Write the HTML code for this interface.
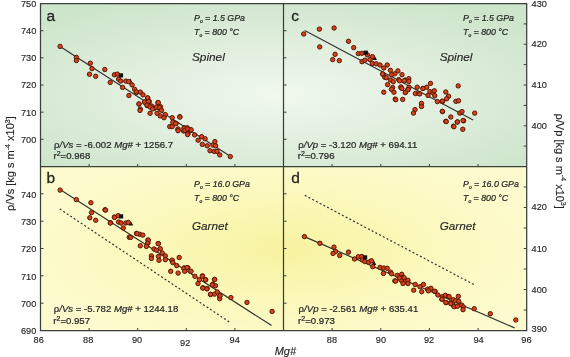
<!DOCTYPE html>
<html><head><meta charset="utf-8"><style>
html,body{margin:0;padding:0;width:570px;height:357px;overflow:hidden;background:#fff}
body{position:relative;font-family:"Liberation Sans", sans-serif}
</style></head><body>
<svg width="570" height="357" viewBox="0 0 570 357" style="position:absolute;left:0;top:0;filter:blur(0.3px)">
<defs>
<radialGradient id="gtop" gradientUnits="userSpaceOnUse" cx="280" cy="95" r="1" gradientTransform="translate(280 95) scale(330 105) translate(-280 -95)">
<stop offset="0" stop-color="#f0f8ee"/><stop offset="0.4" stop-color="#e4f0e1"/><stop offset="1" stop-color="#cde5ca"/></radialGradient>
<radialGradient id="gbot" gradientUnits="userSpaceOnUse" cx="284" cy="250" r="1" gradientTransform="translate(284 250) scale(260 100) translate(-284 -250)">
<stop offset="0" stop-color="#f8f3a0"/><stop offset="0.5" stop-color="#fbf8ba"/><stop offset="1" stop-color="#fdfbce"/></radialGradient>
</defs>
<rect x="0" y="0" width="570" height="357" fill="#ffffff"/>
<rect x="40.5" y="3.5" width="243.0" height="163.0" fill="url(#gtop)"/>
<rect x="283.5" y="3.5" width="243.20000000000005" height="163.0" fill="url(#gtop)"/>
<rect x="40.5" y="166.5" width="243.0" height="164.0" fill="url(#gbot)"/>
<rect x="283.5" y="166.5" width="243.20000000000005" height="164.0" fill="url(#gbot)"/>
<path d="M40.5 30.7h3M283.5 30.7h3M40.5 57.8h3M283.5 57.8h3M40.5 85.0h3M283.5 85.0h3M40.5 112.2h3M283.5 112.2h3M40.5 139.3h3M283.5 139.3h3M40.5 193.8h3M283.5 193.8h3M40.5 221.2h3M283.5 221.2h3M40.5 248.5h3M283.5 248.5h3M40.5 275.8h3M283.5 275.8h3M40.5 303.2h3M283.5 303.2h3M526.7 23.9h-3M526.7 187.0h-3M526.7 44.2h-3M526.7 207.5h-3M526.7 64.6h-3M526.7 228.0h-3M526.7 85.0h-3M526.7 248.5h-3M526.7 105.4h-3M526.7 269.0h-3M526.7 125.8h-3M526.7 289.5h-3M526.7 146.1h-3M526.7 310.0h-3M89.1 166.5v-2.5M332.1 166.5v-2.5M89.1 330.5v-2.5M332.1 330.5v-2.5M137.7 166.5v-2.5M380.8 166.5v-2.5M137.7 330.5v-2.5M380.8 330.5v-2.5M186.3 166.5v-2.5M429.4 166.5v-2.5M186.3 330.5v-2.5M429.4 330.5v-2.5M234.9 166.5v-2.5M478.1 166.5v-2.5M234.9 330.5v-2.5M478.1 330.5v-2.5" stroke="#3a3f3a" stroke-width="1" fill="none"/><path d="M40.5 3.5H526.7V330.5H40.5Z M283.5 3.5V330.5 M40.5 166.5H526.7" stroke="#3a403a" stroke-width="1.25" fill="none"/><g stroke="#2f3530" stroke-width="1.2" fill="none"><path d="M60.1 46.4L230.6 156.6M60.1 189.4L271.6 325.6M304.7 30.5L473.1 120M304.4 236.6L514.6 327.9"/><path d="M59.8 209L229.3 322M304.8 195.4L474.2 284.7" stroke-dasharray="2 2.2"/></g><path d="M127.79999999999998 82.6L130.2 78.39999999999999L132.6 82.6Z" fill="#111"/><path d="M128.5 225.5L130.9 221.3L133.3 225.5Z" fill="#111"/><path d="M372.20000000000005 59.9L374.6 55.699999999999996L377.0 59.9Z" fill="#111"/><path d="M371.6 264.9L374 260.7L376.4 264.9Z" fill="#111"/><g fill="#d8421a" stroke="#561804" stroke-width="1"><circle cx="60.1" cy="46.4" r="2.2"/><circle cx="76.4" cy="57.4" r="2.2"/><circle cx="76.4" cy="60.5" r="2.2"/><circle cx="90.3" cy="63.2" r="2.2"/><circle cx="92.0" cy="68.6" r="2.2"/><circle cx="89.5" cy="74.2" r="2.2"/><circle cx="95.7" cy="76.3" r="2.2"/><circle cx="104.8" cy="69.5" r="2.2"/><circle cx="110.2" cy="82.4" r="2.2"/><circle cx="114.4" cy="74.8" r="2.2"/><circle cx="117.3" cy="74.1" r="2.2"/><circle cx="118.6" cy="79.1" r="2.2"/><circle cx="120.7" cy="81.1" r="2.2"/><circle cx="125.8" cy="81.1" r="2.2"/><circle cx="128.7" cy="81.6" r="2.2"/><circle cx="132.1" cy="84.9" r="2.2"/><circle cx="122.6" cy="87.4" r="2.2"/><circle cx="134.6" cy="89.2" r="2.2"/><circle cx="136.5" cy="92.5" r="2.2"/><circle cx="140.3" cy="92.1" r="2.2"/><circle cx="143.0" cy="94.8" r="2.2"/><circle cx="128.9" cy="95.5" r="2.2"/><circle cx="147.8" cy="98.4" r="2.2"/><circle cx="144.7" cy="102.2" r="2.2"/><circle cx="149.3" cy="101.6" r="2.2"/><circle cx="139.0" cy="104.1" r="2.2"/><circle cx="157.9" cy="102.6" r="2.2"/><circle cx="147.2" cy="105.6" r="2.2"/><circle cx="151.6" cy="106.0" r="2.2"/><circle cx="160.4" cy="106.6" r="2.2"/><circle cx="140.3" cy="109.1" r="2.2"/><circle cx="154.1" cy="108.5" r="2.2"/><circle cx="136.3" cy="91.9" r="2.2"/><circle cx="139.0" cy="103.9" r="2.2"/><circle cx="140.0" cy="110.4" r="2.2"/><circle cx="147.6" cy="97.8" r="2.2"/><circle cx="144.5" cy="102.0" r="2.2"/><circle cx="148.6" cy="101.6" r="2.2"/><circle cx="147.0" cy="105.1" r="2.2"/><circle cx="150.1" cy="107.0" r="2.2"/><circle cx="158.3" cy="102.6" r="2.2"/><circle cx="152.7" cy="108.9" r="2.2"/><circle cx="156.4" cy="107.0" r="2.2"/><circle cx="159.6" cy="107.7" r="2.2"/><circle cx="161.5" cy="110.2" r="2.2"/><circle cx="150.1" cy="113.3" r="2.2"/><circle cx="157.1" cy="113.3" r="2.2"/><circle cx="160.2" cy="115.9" r="2.2"/><circle cx="165.3" cy="114.6" r="2.2"/><circle cx="164.0" cy="117.7" r="2.2"/><circle cx="172.2" cy="117.7" r="2.2"/><circle cx="179.8" cy="116.7" r="2.2"/><circle cx="172.8" cy="122.2" r="2.2"/><circle cx="176.0" cy="123.4" r="2.2"/><circle cx="169.7" cy="126.6" r="2.2"/><circle cx="172.2" cy="126.6" r="2.2"/><circle cx="177.9" cy="129.7" r="2.2"/><circle cx="184.2" cy="127.8" r="2.2"/><circle cx="187.3" cy="127.8" r="2.2"/><circle cx="183.6" cy="131.0" r="2.2"/><circle cx="190.5" cy="130.4" r="2.2"/><circle cx="188.0" cy="133.5" r="2.2"/><circle cx="179.9" cy="117.1" r="2.2"/><circle cx="175.7" cy="123.7" r="2.2"/><circle cx="178.1" cy="129.0" r="2.2"/><circle cx="178.1" cy="130.7" r="2.2"/><circle cx="184.1" cy="128.3" r="2.2"/><circle cx="184.8" cy="130.4" r="2.2"/><circle cx="187.6" cy="129.0" r="2.2"/><circle cx="191.1" cy="129.7" r="2.2"/><circle cx="187.6" cy="134.6" r="2.2"/><circle cx="194.6" cy="134.9" r="2.2"/><circle cx="201.6" cy="136.7" r="2.2"/><circle cx="198.1" cy="140.2" r="2.2"/><circle cx="205.1" cy="138.8" r="2.2"/><circle cx="202.3" cy="144.4" r="2.2"/><circle cx="207.2" cy="145.8" r="2.2"/><circle cx="214.9" cy="141.6" r="2.2"/><circle cx="212.8" cy="145.1" r="2.2"/><circle cx="215.6" cy="145.8" r="2.2"/><circle cx="210.0" cy="150.7" r="2.2"/><circle cx="214.2" cy="151.4" r="2.2"/><circle cx="217.0" cy="151.4" r="2.2"/><circle cx="219.8" cy="154.9" r="2.2"/><circle cx="230.3" cy="156.6" r="2.2"/><circle cx="60.1" cy="190.1" r="2.2"/><circle cx="76.3" cy="199.6" r="2.2"/><circle cx="90.9" cy="202.7" r="2.2"/><circle cx="91.5" cy="212.6" r="2.2"/><circle cx="89.8" cy="217.8" r="2.2"/><circle cx="95.7" cy="220.3" r="2.2"/><circle cx="105.0" cy="209.8" r="2.2"/><circle cx="110.5" cy="222.7" r="2.2"/><circle cx="114.4" cy="217.1" r="2.2"/><circle cx="118.2" cy="215.7" r="2.2"/><circle cx="118.6" cy="222.0" r="2.2"/><circle cx="105.6" cy="210.1" r="2.2"/><circle cx="114.5" cy="217.4" r="2.2"/><circle cx="110.3" cy="223.0" r="2.2"/><circle cx="121.1" cy="223.0" r="2.2"/><circle cx="125.8" cy="223.0" r="2.2"/><circle cx="128.3" cy="222.4" r="2.2"/><circle cx="123.3" cy="228.0" r="2.2"/><circle cx="136.5" cy="233.4" r="2.2"/><circle cx="139.7" cy="234.3" r="2.2"/><circle cx="142.8" cy="235.1" r="2.2"/><circle cx="129.2" cy="237.2" r="2.2"/><circle cx="147.9" cy="240.1" r="2.2"/><circle cx="147.9" cy="242.9" r="2.2"/><circle cx="158.2" cy="243.5" r="2.2"/><circle cx="136.9" cy="233.6" r="2.2"/><circle cx="130.6" cy="237.4" r="2.2"/><circle cx="148.3" cy="240.1" r="2.2"/><circle cx="147.7" cy="243.3" r="2.2"/><circle cx="140.3" cy="245.8" r="2.2"/><circle cx="146.4" cy="246.4" r="2.2"/><circle cx="158.4" cy="243.7" r="2.2"/><circle cx="154.0" cy="249.0" r="2.2"/><circle cx="156.5" cy="250.2" r="2.2"/><circle cx="160.3" cy="248.7" r="2.2"/><circle cx="162.2" cy="253.0" r="2.2"/><circle cx="151.4" cy="255.9" r="2.2"/><circle cx="151.4" cy="258.4" r="2.2"/><circle cx="158.4" cy="256.5" r="2.2"/><circle cx="159.0" cy="260.3" r="2.2"/><circle cx="165.3" cy="255.9" r="2.2"/><circle cx="165.3" cy="259.7" r="2.2"/><circle cx="172.2" cy="260.9" r="2.2"/><circle cx="179.2" cy="257.5" r="2.2"/><circle cx="176.7" cy="265.6" r="2.2"/><circle cx="184.2" cy="267.9" r="2.2"/><circle cx="188.0" cy="267.9" r="2.2"/><circle cx="172.1" cy="260.1" r="2.2"/><circle cx="172.8" cy="262.6" r="2.2"/><circle cx="170.7" cy="271.3" r="2.2"/><circle cx="178.1" cy="273.1" r="2.2"/><circle cx="183.7" cy="268.5" r="2.2"/><circle cx="187.1" cy="267.5" r="2.2"/><circle cx="184.7" cy="271.3" r="2.2"/><circle cx="191.0" cy="271.3" r="2.2"/><circle cx="194.9" cy="276.3" r="2.2"/><circle cx="202.5" cy="275.9" r="2.2"/><circle cx="199.4" cy="279.7" r="2.2"/><circle cx="205.7" cy="279.7" r="2.2"/><circle cx="198.0" cy="283.6" r="2.2"/><circle cx="214.5" cy="279.4" r="2.2"/><circle cx="212.7" cy="284.3" r="2.2"/><circle cx="215.5" cy="285.7" r="2.2"/><circle cx="202.9" cy="287.8" r="2.2"/><circle cx="207.1" cy="288.5" r="2.2"/><circle cx="210.6" cy="294.5" r="2.2"/><circle cx="214.5" cy="294.1" r="2.2"/><circle cx="217.3" cy="292.0" r="2.2"/><circle cx="219.7" cy="296.2" r="2.2"/><circle cx="219.7" cy="298.7" r="2.2"/><circle cx="230.9" cy="297.6" r="2.2"/><circle cx="202.3" cy="276.2" r="2.2"/><circle cx="205.4" cy="279.9" r="2.2"/><circle cx="214.6" cy="279.6" r="2.2"/><circle cx="212.3" cy="285.0" r="2.2"/><circle cx="202.8" cy="288.1" r="2.2"/><circle cx="206.9" cy="288.9" r="2.2"/><circle cx="210.5" cy="294.3" r="2.2"/><circle cx="220.0" cy="295.8" r="2.2"/><circle cx="247.0" cy="302.4" r="2.2"/><circle cx="272.1" cy="311.4" r="2.2"/><circle cx="303.7" cy="34.0" r="2.2"/><circle cx="319.4" cy="29.1" r="2.2"/><circle cx="334.1" cy="28.0" r="2.2"/><circle cx="319.7" cy="46.9" r="2.2"/><circle cx="348.5" cy="41.3" r="2.2"/><circle cx="353.7" cy="47.6" r="2.2"/><circle cx="358.3" cy="53.6" r="2.2"/><circle cx="335.1" cy="54.3" r="2.2"/><circle cx="332.7" cy="59.6" r="2.2"/><circle cx="339.3" cy="60.6" r="2.2"/><circle cx="362.0" cy="53.3" r="2.2"/><circle cx="367.4" cy="54.9" r="2.2"/><circle cx="372.4" cy="56.7" r="2.2"/><circle cx="362.0" cy="61.7" r="2.2"/><circle cx="364.9" cy="60.2" r="2.2"/><circle cx="369.9" cy="59.6" r="2.2"/><circle cx="372.4" cy="63.4" r="2.2"/><circle cx="376.2" cy="63.8" r="2.2"/><circle cx="380.0" cy="65.0" r="2.2"/><circle cx="383.8" cy="68.0" r="2.2"/><circle cx="387.2" cy="65.0" r="2.2"/><circle cx="390.4" cy="70.3" r="2.2"/><circle cx="397.9" cy="70.9" r="2.2"/><circle cx="394.8" cy="73.8" r="2.2"/><circle cx="402.0" cy="74.7" r="2.2"/><circle cx="383.0" cy="74.3" r="2.2"/><circle cx="384.7" cy="77.2" r="2.2"/><circle cx="391.6" cy="74.7" r="2.2"/><circle cx="382.6" cy="73.9" r="2.2"/><circle cx="386.3" cy="77.7" r="2.2"/><circle cx="390.4" cy="80.0" r="2.2"/><circle cx="393.3" cy="81.7" r="2.2"/><circle cx="398.7" cy="79.6" r="2.2"/><circle cx="405.3" cy="80.0" r="2.2"/><circle cx="408.8" cy="78.7" r="2.2"/><circle cx="408.8" cy="81.5" r="2.2"/><circle cx="387.6" cy="84.6" r="2.2"/><circle cx="392.7" cy="87.5" r="2.2"/><circle cx="391.4" cy="89.3" r="2.2"/><circle cx="393.9" cy="92.2" r="2.2"/><circle cx="383.8" cy="92.2" r="2.2"/><circle cx="400.9" cy="87.5" r="2.2"/><circle cx="409.0" cy="87.2" r="2.2"/><circle cx="407.8" cy="89.7" r="2.2"/><circle cx="405.3" cy="92.6" r="2.2"/><circle cx="417.2" cy="87.2" r="2.2"/><circle cx="415.4" cy="93.5" r="2.2"/><circle cx="419.1" cy="93.5" r="2.2"/><circle cx="422.9" cy="88.4" r="2.2"/><circle cx="426.7" cy="87.2" r="2.2"/><circle cx="430.5" cy="83.4" r="2.2"/><circle cx="429.9" cy="91.6" r="2.2"/><circle cx="428.0" cy="95.4" r="2.2"/><circle cx="433.0" cy="92.8" r="2.2"/><circle cx="395.2" cy="99.1" r="2.2"/><circle cx="402.7" cy="99.4" r="2.2"/><circle cx="399.6" cy="80.8" r="2.2"/><circle cx="404.2" cy="80.8" r="2.2"/><circle cx="400.9" cy="86.9" r="2.2"/><circle cx="401.9" cy="88.5" r="2.2"/><circle cx="405.5" cy="92.3" r="2.2"/><circle cx="408.1" cy="89.6" r="2.2"/><circle cx="423.0" cy="88.5" r="2.2"/><circle cx="419.7" cy="93.9" r="2.2"/><circle cx="434.3" cy="90.8" r="2.2"/><circle cx="434.8" cy="95.7" r="2.2"/><circle cx="395.8" cy="99.7" r="2.2"/><circle cx="437.4" cy="101.6" r="2.2"/><circle cx="442.5" cy="101.6" r="2.2"/><circle cx="445.8" cy="92.0" r="2.2"/><circle cx="448.6" cy="96.2" r="2.2"/><circle cx="446.6" cy="98.8" r="2.2"/><circle cx="458.2" cy="85.9" r="2.2"/><circle cx="455.9" cy="101.3" r="2.2"/><circle cx="458.5" cy="100.8" r="2.2"/><circle cx="421.5" cy="103.4" r="2.2"/><circle cx="421.5" cy="106.5" r="2.2"/><circle cx="415.0" cy="109.6" r="2.2"/><circle cx="413.5" cy="113.1" r="2.2"/><circle cx="442.5" cy="111.6" r="2.2"/><circle cx="459.7" cy="113.1" r="2.2"/><circle cx="462.0" cy="111.6" r="2.2"/><circle cx="450.8" cy="117.0" r="2.2"/><circle cx="445.8" cy="121.3" r="2.2"/><circle cx="457.4" cy="121.9" r="2.2"/><circle cx="463.6" cy="120.8" r="2.2"/><circle cx="453.5" cy="126.2" r="2.2"/><circle cx="462.8" cy="129.3" r="2.2"/><circle cx="442.3" cy="101.1" r="2.2"/><circle cx="442.3" cy="111.3" r="2.2"/><circle cx="474.7" cy="113.1" r="2.2"/><circle cx="446.2" cy="121.6" r="2.2"/><circle cx="457.3" cy="122.0" r="2.2"/><circle cx="463.1" cy="120.5" r="2.2"/><circle cx="453.9" cy="126.7" r="2.2"/><circle cx="304.4" cy="236.6" r="2.2"/><circle cx="319.9" cy="243.3" r="2.2"/><circle cx="334.0" cy="247.1" r="2.2"/><circle cx="335.6" cy="251.5" r="2.2"/><circle cx="333.0" cy="253.4" r="2.2"/><circle cx="339.7" cy="255.5" r="2.2"/><circle cx="348.5" cy="252.1" r="2.2"/><circle cx="354.5" cy="259.0" r="2.2"/><circle cx="358.3" cy="256.8" r="2.2"/><circle cx="361.8" cy="256.5" r="2.2"/><circle cx="362.4" cy="260.0" r="2.2"/><circle cx="364.9" cy="261.6" r="2.2"/><circle cx="368.7" cy="262.2" r="2.2"/><circle cx="371.4" cy="260.8" r="2.2"/><circle cx="372.7" cy="266.7" r="2.2"/><circle cx="380.0" cy="267.4" r="2.2"/><circle cx="383.8" cy="268.0" r="2.2"/><circle cx="387.2" cy="268.3" r="2.2"/><circle cx="383.4" cy="273.4" r="2.2"/><circle cx="390.6" cy="272.1" r="2.2"/><circle cx="391.6" cy="273.8" r="2.2"/><circle cx="397.3" cy="275.3" r="2.2"/><circle cx="401.7" cy="274.3" r="2.2"/><circle cx="403.0" cy="277.2" r="2.2"/><circle cx="404.2" cy="277.8" r="2.2"/><circle cx="394.8" cy="280.9" r="2.2"/><circle cx="401.1" cy="280.3" r="2.2"/><circle cx="405.5" cy="281.6" r="2.2"/><circle cx="408.0" cy="280.3" r="2.2"/><circle cx="403.0" cy="283.5" r="2.2"/><circle cx="408.0" cy="283.5" r="2.2"/><circle cx="399.4" cy="277.9" r="2.2"/><circle cx="395.6" cy="281.1" r="2.2"/><circle cx="415.2" cy="284.5" r="2.2"/><circle cx="420.0" cy="286.7" r="2.2"/><circle cx="423.4" cy="284.5" r="2.2"/><circle cx="413.7" cy="290.2" r="2.2"/><circle cx="421.7" cy="291.7" r="2.2"/><circle cx="427.5" cy="289.2" r="2.2"/><circle cx="430.9" cy="288.3" r="2.2"/><circle cx="428.4" cy="290.9" r="2.2"/><circle cx="435.1" cy="291.5" r="2.2"/><circle cx="437.9" cy="295.0" r="2.2"/><circle cx="442.3" cy="296.8" r="2.2"/><circle cx="445.4" cy="295.3" r="2.2"/><circle cx="448.6" cy="296.5" r="2.2"/><circle cx="441.9" cy="299.3" r="2.2"/><circle cx="446.1" cy="302.6" r="2.2"/><circle cx="450.5" cy="302.8" r="2.2"/><circle cx="453.3" cy="299.7" r="2.2"/><circle cx="453.3" cy="305.4" r="2.2"/><circle cx="434.7" cy="291.3" r="2.2"/><circle cx="442.0" cy="299.2" r="2.2"/><circle cx="449.2" cy="296.7" r="2.2"/><circle cx="458.3" cy="296.3" r="2.2"/><circle cx="445.8" cy="302.5" r="2.2"/><circle cx="450.8" cy="303.7" r="2.2"/><circle cx="455.8" cy="300.8" r="2.2"/><circle cx="458.7" cy="301.3" r="2.2"/><circle cx="454.2" cy="306.7" r="2.2"/><circle cx="457.5" cy="306.3" r="2.2"/><circle cx="461.7" cy="305.0" r="2.2"/><circle cx="463.3" cy="307.0" r="2.2"/><circle cx="463.0" cy="309.7" r="2.2"/><circle cx="474.2" cy="308.7" r="2.2"/><circle cx="490.3" cy="313.7" r="2.2"/><circle cx="515.8" cy="320.0" r="2.2"/></g><rect x="118.9" y="73.30000000000001" width="4.2" height="4.2" fill="#111"/><rect x="119.0" y="214.3" width="4.2" height="4.2" fill="#111"/><rect x="363.7" y="50.6" width="4.2" height="4.2" fill="#111"/><rect x="363.0" y="255.29999999999998" width="4.2" height="4.2" fill="#111"/><g font-family='"Liberation Sans", sans-serif' fill="#262626" stroke="#262626" stroke-width="0.15"><text x="36.3" y="6.8" font-size="9.2" text-anchor="end"  >750</text><text x="36.3" y="34.0" font-size="9.2" text-anchor="end"  >740</text><text x="36.3" y="61.1" font-size="9.2" text-anchor="end"  >730</text><text x="36.3" y="88.3" font-size="9.2" text-anchor="end"  >720</text><text x="36.3" y="115.5" font-size="9.2" text-anchor="end"  >710</text><text x="36.3" y="142.6" font-size="9.2" text-anchor="end"  >700</text><text x="36.3" y="197.5" font-size="9.2" text-anchor="end"  >740</text><text x="36.3" y="224.9" font-size="9.2" text-anchor="end"  >730</text><text x="36.3" y="252.2" font-size="9.2" text-anchor="end"  >720</text><text x="36.3" y="279.5" font-size="9.2" text-anchor="end"  >710</text><text x="36.3" y="306.9" font-size="9.2" text-anchor="end"  >700</text><text x="36.3" y="333.6" font-size="9.2" text-anchor="end"  >690</text><text x="531.6" y="6.5" font-size="9.2" text-anchor="start"  >430</text><text x="531.6" y="47.2" font-size="9.2" text-anchor="start"  >420</text><text x="531.6" y="88.0" font-size="9.2" text-anchor="start"  >410</text><text x="531.6" y="128.8" font-size="9.2" text-anchor="start"  >400</text><text x="531.6" y="209.6" font-size="9.2" text-anchor="start"  >420</text><text x="531.6" y="252.1" font-size="9.2" text-anchor="start"  >410</text><text x="531.6" y="292.9" font-size="9.2" text-anchor="start"  >400</text><text x="531.6" y="331.8" font-size="9.2" text-anchor="start"  >390</text><text x="38.7" y="343.2" font-size="9.2" text-anchor="middle"  >86</text><text x="88.2" y="343.2" font-size="9.2" text-anchor="middle"  >88</text><text x="137.1" y="343.2" font-size="9.2" text-anchor="middle"  >90</text><text x="185.2" y="346" font-size="9.2" text-anchor="middle"  >92</text><text x="234.7" y="343.2" font-size="9.2" text-anchor="middle"  >94</text><text x="331.9" y="343.2" font-size="9.2" text-anchor="middle"  >88</text><text x="380.9" y="343.2" font-size="9.2" text-anchor="middle"  >90</text><text x="429" y="343.2" font-size="9.2" text-anchor="middle"  >92</text><text x="478.5" y="343.4" font-size="9.2" text-anchor="middle"  >94</text><text x="526.4" y="343.4" font-size="9.2" text-anchor="middle"  >96</text><text x="285.4" y="354.5" font-size="11" text-anchor="middle" font-style="italic" >Mg#</text><text x="46.5" y="20.7" font-size="15.5" text-anchor="start"  stroke-width="0.3">a</text><text x="291.2" y="20.9" font-size="15.5" text-anchor="start"  stroke-width="0.3">c</text><text x="46.6" y="183.1" font-size="15.5" text-anchor="start"  stroke-width="0.3">b</text><text x="291.2" y="183.1" font-size="15.5" text-anchor="start"  stroke-width="0.3">d</text><text x="194" y="20.6" font-size="8.8" font-style="italic" stroke-width="0.22">P<tspan font-size="5" dy="2.3">o</tspan><tspan dy="-2.3"> = 1.5 GPa</tspan></text><text x="194" y="34.6" font-size="8.8" font-style="italic" stroke-width="0.22">T<tspan font-size="5" dy="2.3">o</tspan><tspan dy="-2.3"> = 800 °C</tspan></text><text x="463" y="20.6" font-size="8.8" font-style="italic" stroke-width="0.22">P<tspan font-size="5" dy="2.3">o</tspan><tspan dy="-2.3"> = 1.5 GPa</tspan></text><text x="463" y="34.6" font-size="8.8" font-style="italic" stroke-width="0.22">T<tspan font-size="5" dy="2.3">o</tspan><tspan dy="-2.3"> = 800 °C</tspan></text><text x="194" y="186.8" font-size="8.8" font-style="italic" stroke-width="0.22">P<tspan font-size="5" dy="2.3">o</tspan><tspan dy="-2.3"> = 16.0 GPa</tspan></text><text x="194" y="200.6" font-size="8.8" font-style="italic" stroke-width="0.22">T<tspan font-size="5" dy="2.3">o</tspan><tspan dy="-2.3"> = 800 °C</tspan></text><text x="463" y="186.8" font-size="8.8" font-style="italic" stroke-width="0.22">P<tspan font-size="5" dy="2.3">o</tspan><tspan dy="-2.3"> = 16.0 GPa</tspan></text><text x="463" y="200.6" font-size="8.8" font-style="italic" stroke-width="0.22">T<tspan font-size="5" dy="2.3">o</tspan><tspan dy="-2.3"> = 800 °C</tspan></text><text x="192" y="61.3" font-size="11.8" text-anchor="start" font-style="italic" >Spinel</text><text x="439.7" y="61.3" font-size="11.8" text-anchor="start" font-style="italic" >Spinel</text><text x="192" y="230.3" font-size="11.7" text-anchor="start" font-style="italic" >Garnet</text><text x="439.7" y="230.3" font-size="11.7" text-anchor="start" font-style="italic" >Garnet</text><text x="54" y="147.5" font-size="9.6" stroke-width="0.22">ρ<tspan font-style="italic">/Vs</tspan> = -6.002 <tspan font-style="italic">Mg#</tspan> + 1256.7</text><text x="53.5" y="159.4" font-size="9.6" stroke-width="0.22">r<tspan font-size="7" dy="-3.2">2</tspan><tspan dy="3.2">=</tspan>0.968</text><text x="298.3" y="147.5" font-size="9.6" stroke-width="0.22">ρ<tspan font-style="italic">/Vp</tspan> = -3.120 <tspan font-style="italic">Mg#</tspan> + 694.11</text><text x="297.8" y="159.4" font-size="9.6" stroke-width="0.22">r<tspan font-size="7" dy="-3.2">2</tspan><tspan dy="3.2">=</tspan>0.796</text><text x="53.8" y="312" font-size="9.6" stroke-width="0.22">ρ<tspan font-style="italic">/Vs</tspan> = -5.782 <tspan font-style="italic">Mg#</tspan> + 1244.18</text><text x="53.3" y="323.8" font-size="9.6" stroke-width="0.22">r<tspan font-size="7" dy="-3.2">2</tspan><tspan dy="3.2">=</tspan>0.957</text><text x="298.6" y="312" font-size="9.6" stroke-width="0.22">ρ<tspan font-style="italic">/Vp</tspan> = -2.561 <tspan font-style="italic">Mg#</tspan> + 635.41</text><text x="298.1" y="323.8" font-size="9.6" stroke-width="0.22">r<tspan font-size="7" dy="-3.2">2</tspan><tspan dy="3.2">=</tspan>0.973</text><text transform="translate(14,163.6) rotate(-90)" font-size="11" text-anchor="middle">ρ/Vs [kg s m<tspan font-size="7" dy="-4.5">-4</tspan><tspan dy="4.5"> x10</tspan><tspan font-size="7" dy="-4.5">3</tspan><tspan dy="4.5">]</tspan></text><text transform="translate(556,161.2) rotate(90)" font-size="11" text-anchor="middle">ρ/Vp [kg s m<tspan font-size="7" dy="-4.5">-4</tspan><tspan dy="4.5"> x10</tspan><tspan font-size="7" dy="-4.5">3</tspan><tspan dy="4.5">]</tspan></text></g></svg>
</body></html>
